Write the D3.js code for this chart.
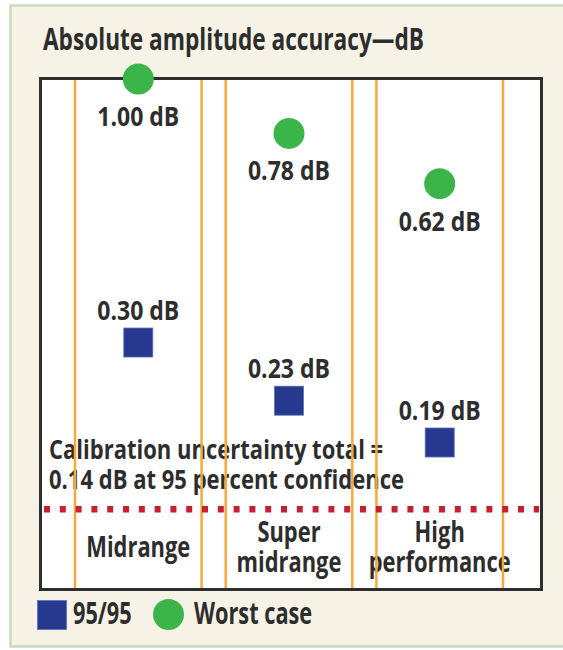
<!DOCTYPE html>
<html>
<head>
<meta charset="utf-8">
<script src="https://cdn.jsdelivr.net/npm/d3@7"></script>
<style>
body { margin: 0; background: #fff; }
text { font-family: "Open Sans", "Noto Sans", "Liberation Sans", sans-serif; fill: #2d2d2d; font-weight: 700; }
</style>
</head>
<body>
<script>
// chart values
var categories = ["Midrange", "Super midrange", "High performance"];
var categoryLines = [["Midrange"], ["Super", "midrange"], ["High", "performance"]];
var worstCase = [1.00, 0.78, 0.62];
var ninetyFive = [0.30, 0.23, 0.19];
var calibration = 0.14;
var calibrationText = ["Calibration uncertainty total =", "0.14 dB at 95 percent confidence"];
var titleText = "Absolute amplitude accuracy\u2014dB";
var legendLabels = ["95/95", "Worst case"];

var width = 563,
    height = 650;

var svg = d3.select('body')
    .append('svg')
    .attr('width', width)
    .attr('height', height);

// beige panel with green edge
svg.append('rect')
    .attr('x', 10.5).attr('y', 5.5)
    .attr('width', 580).attr('height', 641)
    .attr('fill', '#f6f3e6')
    .attr('stroke', '#c6ddb6')
    .attr('stroke-width', 2.5);

var x = d3.scaleBand()
    .domain(categories)
    .range([75, 503])
    .paddingInner(0.16)
    .paddingOuter(0);

var y = d3.scaleLog()
    .domain([0.1, 1])
    .range([583, 79]);

var cx = (d) => x(d) + x.bandwidth() / 2;

// plot box
svg.append('rect')
    .attr('x', 40.5).attr('y', 78.5)
    .attr('width', 501).attr('height', 511)
    .attr('fill', '#fff');

var title = svg.append('text')
    .attr('x', 43).attr('y', 50)
    .attr('font-size', 30)
    .text(titleText);

// squeeze text to the narrow look of the original
var k = 381 / title.node().getComputedTextLength();
var squeeze = function(sel, f) {
    f = f || 1;
    sel.each(function() {
        var w = this.getComputedTextLength();
        this.setAttribute('textLength', w * k * f);
        this.setAttribute('lengthAdjust', 'spacingAndGlyphs');
    });
};
squeeze(title);

// calibration note
var calib = svg.append('text')
    .attr('font-size', 27);
calib.selectAll('tspan')
    .data(calibrationText).enter()
    .append('tspan')
    .attr('x', 49)
    .attr('y', (d, i) => 459 + i * 30)
    .text((d) => d)
    .call(squeeze, 1.08);

// category labels
categories.forEach(function(c, i) {
    var lines = categoryLines[i];
    svg.append('text')
        .attr('text-anchor', 'middle')
        .attr('font-size', 29)
        .selectAll('tspan')
        .data(lines).enter()
        .append('tspan')
        .attr('x', cx(c))
        .attr('y', (d, j) => lines.length == 1 ? 557 : 542 + j * 30)
        .text((d) => d)
        .call(squeeze);
});

// orange column guides
var edges = [];
categories.forEach(function(c) {
    edges.push(x(c));
    edges.push(x(c) + x.bandwidth());
});
svg.selectAll('.guide')
    .data(edges).enter()
    .append('line')
    .attr('class', 'guide')
    .attr('x1', (d) => d).attr('x2', (d) => d)
    .attr('y1', 80).attr('y2', 589)
    .attr('stroke', '#f6a83b')
    .attr('stroke-width', 2.5);

// calibration uncertainty line
svg.append('line')
    .attr('x1', 44).attr('x2', 539)
    .attr('y1', y(calibration)).attr('y2', y(calibration))
    .attr('stroke', '#c81f2e')
    .attr('stroke-width', 6.5)
    .attr('stroke-dasharray', '6,9.8');

svg.append('rect')
    .attr('x', 40.5).attr('y', 78.5)
    .attr('width', 501).attr('height', 511)
    .attr('fill', 'none')
    .attr('stroke', '#2e2e2e')
    .attr('stroke-width', 3);

// 95/95 squares
svg.selectAll('.sq')
    .data(ninetyFive).enter()
    .append('rect')
    .attr('class', 'sq')
    .attr('x', (d, i) => cx(categories[i]) - 14.5)
    .attr('y', (d) => y(d) - 14.5)
    .attr('width', 29).attr('height', 29)
    .attr('fill', '#27388f')
    .attr('stroke', '#5f6fb5')
    .attr('stroke-width', 0.8);

svg.selectAll('.sqlab')
    .data(ninetyFive).enter()
    .append('text')
    .attr('class', 'sqlab')
    .attr('x', (d, i) => cx(categories[i]))
    .attr('y', (d) => y(d) - 23)
    .attr('text-anchor', 'middle')
    .attr('font-size', 27)
    .text((d) => d3.format('.2f')(d) + ' dB')
    .call(squeeze, 1.13);

// worst case circles
svg.selectAll('.dot')
    .data(worstCase).enter()
    .append('circle')
    .attr('class', 'dot')
    .attr('cx', (d, i) => cx(categories[i]))
    .attr('cy', (d) => y(d))
    .attr('r', 15.5)
    .attr('fill', '#3bb44a');

svg.selectAll('.dotlab')
    .data(worstCase).enter()
    .append('text')
    .attr('class', 'dotlab')
    .attr('x', (d, i) => cx(categories[i]))
    .attr('y', (d) => y(d) + 47)
    .attr('text-anchor', 'middle')
    .attr('font-size', 27)
    .text((d) => d3.format('.2f')(d) + ' dB')
    .call(squeeze, 1.13);

// legend
var legend = svg.append('g');
legend.append('rect')
    .attr('x', 37.5).attr('y', 600.5)
    .attr('width', 29).attr('height', 29)
    .attr('fill', '#27388f')
    .attr('stroke', '#5f6fb5')
    .attr('stroke-width', 0.8);
legend.append('circle')
    .attr('cx', 168.5).attr('cy', 614.5)
    .attr('r', 15.5)
    .attr('fill', '#3bb44a');
legend.selectAll('text')
    .data(legendLabels).enter()
    .append('text')
    .attr('x', (d, i) => i == 0 ? 73 : 194)
    .attr('y', 624)
    .attr('font-size', 30)
    .text((d) => d)
    .call(squeeze, 0.96);
</script>
</body>
</html>
